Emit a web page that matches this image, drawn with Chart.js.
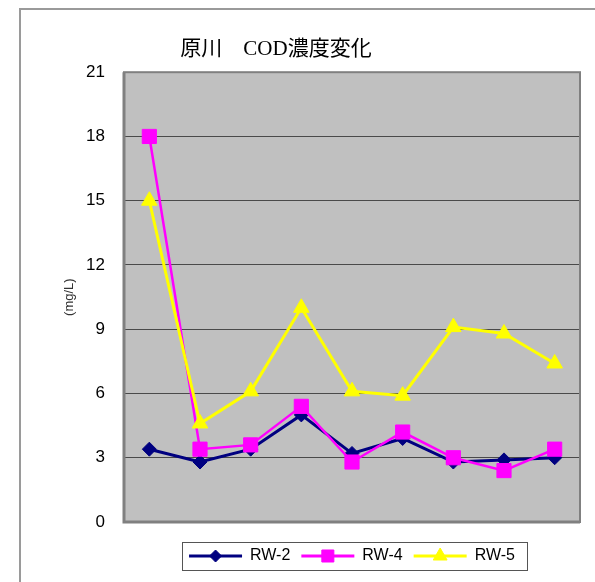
<!DOCTYPE html>
<html><head><meta charset="utf-8">
<script src="https://cdn.jsdelivr.net/npm/chart.js@4/dist/chart.umd.min.js"></script>
<style>
html,body{margin:0;padding:0;background:#fff;overflow:hidden;width:595px;height:582px;}
#frame{position:absolute;left:19px;top:8px;width:700px;height:700px;border:2px solid #9a9a9a;box-sizing:border-box;}
#c{position:absolute;left:0;top:0;}
</style></head><body>
<div id="frame"></div>
<canvas id="c" width="595" height="582"></canvas>
<script>
const chartTitle = '原川　COD濃度変化';
const yAxisTitle = '(mg/L)';
const categories = ['', '', '', '', '', '', '', '', ''];
const seriesNames = ['RW-2', 'RW-4', 'RW-5'];
const rw2 = [3.4, 2.8, 3.4, 5.0, 3.2, 3.9, 2.8, 2.9, 3.0];
const rw4 = [18.0, 3.4, 3.6, 5.4, 2.8, 4.2, 3.0, 2.4, 3.4];
const rw5 = [15.0, 4.6, 6.1, 10.0, 6.1, 5.9, 9.1, 8.8, 7.4];
const yTicks = [0, 3, 6, 9, 12, 15, 18, 21];

const sansFont = '"Liberation Sans", Arial, sans-serif';
const titleFont = '"Liberation Serif", "Noto Sans CJK JP", serif';

const legendMarkers = [
  {pointStyle: 'rectRot', radius: 6},
  {pointStyle: 'rect', radius: 8.5},
  {pointStyle: 'triangle', radius: 8}
];

const chartDecor = {
  id: 'chartDecor',
  beforeDraw(chart) {
    const {ctx, chartArea: a} = chart;
    ctx.save();
    ctx.fillStyle = '#c0c0c0';
    ctx.fillRect(a.left, a.top, a.right - a.left, a.bottom - a.top);
    ctx.restore();
  },
  beforeDatasetsDraw(chart) {
    const {ctx, chartArea: a} = chart;
    ctx.save();
    ctx.strokeStyle = '#808080';
    ctx.lineWidth = 2;
    ctx.strokeRect(a.left, a.top, a.right - a.left, a.bottom - a.top);
    ctx.lineWidth = 3;
    ctx.beginPath();
    ctx.moveTo(a.left, a.top);
    ctx.lineTo(a.left, a.bottom);
    ctx.lineTo(a.right, a.bottom);
    ctx.stroke();
    ctx.restore();
  },
  afterLayout(chart) {
    const t = chart.titleBlock;
    if (t) { t.left -= 14; t.right -= 14; }
  },
  afterDraw(chart) {
    const lg = chart.legend;
    if (!lg || !lg.legendHitBoxes) return;
    const ctx = chart.ctx;
    const boxes = lg.legendHitBoxes;
    const bw = lg.options.labels.boxWidth;
    ctx.save();
    boxes.forEach((hb, i) => {
      const ds = chart.data.datasets[i];
      const m = legendMarkers[i];
      ctx.fillStyle = ds.borderColor;
      ctx.strokeStyle = ds.borderColor;
      ctx.lineWidth = 1;
      Chart.helpers.drawPoint(ctx, {pointStyle: m.pointStyle, radius: m.radius, rotation: 0, borderWidth: 1},
        hb.left + bw / 2, hb.top + hb.height / 2);
    });
    const left = Math.min(...boxes.map(b => b.left)) - 7;
    const right = Math.max(...boxes.map(b => b.left + b.width)) + 12;
    const top = boxes[0].top - 6;
    const bottom = boxes[0].top + boxes[0].height + 6;
    ctx.strokeStyle = '#555';
    ctx.lineWidth = 1;
    ctx.strokeRect(Math.round(left) + 0.5, Math.round(top) + 0.5, Math.round(right - left), Math.round(bottom - top));
    ctx.restore();
  }
};

new Chart(document.getElementById('c'), {
  type: 'line',
  data: {
    labels: categories,
    datasets: [
      {label: seriesNames[0], data: rw2, borderColor: '#000080', backgroundColor: '#000080', borderWidth: 3,
       pointStyle: 'rectRot', pointRadius: 7, pointBorderWidth: 1, order: 3},
      {label: seriesNames[1], data: rw4, borderColor: '#ff00ff', backgroundColor: '#ff00ff', borderWidth: 2.5,
       pointStyle: 'rect', pointRadius: 10, pointBorderWidth: 1, order: 2},
      {label: seriesNames[2], data: rw5, borderColor: '#ffff00', backgroundColor: '#ffff00', borderWidth: 3,
       pointStyle: 'triangle', pointRadius: 9, pointBorderWidth: 1, order: 1}
    ]
  },
  options: {
    responsive: false,
    animation: false,
    devicePixelRatio: 1,
    layout: {padding: {left: 0, right: 15, top: 0, bottom: 8}},
    plugins: {
      title: {
        display: true, text: chartTitle, color: '#000',
        font: {size: 21, family: titleFont, weight: 'normal'},
        padding: {top: 37, bottom: 10}
      },
      legend: {
        position: 'bottom', fullSize: false, align: 'center',
        labels: {
          boxWidth: 53, boxHeight: 3, padding: 11, color: '#000',
          font: {size: 16, family: sansFont},
          sort: (a, b) => a.datasetIndex - b.datasetIndex,
          generateLabels: (chart) => chart.data.datasets.map((ds, i) => ({
            text: ds.label, fillStyle: ds.borderColor, strokeStyle: ds.borderColor,
            lineWidth: 0, hidden: false, datasetIndex: i, fontColor: '#000'
          }))
        }
      },
      tooltip: {enabled: false}
    },
    scales: {
      x: {
        type: 'category', offset: true,
        ticks: {display: false},
        grid: {display: false},
        border: {display: false},
        afterFit: (s) => { s.height = 15; }
      },
      y: {
        min: 0, max: 21,
        afterBuildTicks: (s) => { s.ticks = yTicks.map(v => ({value: v})); },
        ticks: {color: '#000', padding: 19, font: {size: 17, family: sansFont}},
        grid: {color: '#4a4a4a', lineWidth: 1, drawTicks: false},
        border: {display: false},
        title: {display: true, text: yAxisTitle, color: '#333', font: {size: 13, family: sansFont}, padding: {top: 62, bottom: 0}},
        afterFit: (s) => { s.width = 124; }
      }
    }
  },
  plugins: [chartDecor]
});
</script>
</body></html>
